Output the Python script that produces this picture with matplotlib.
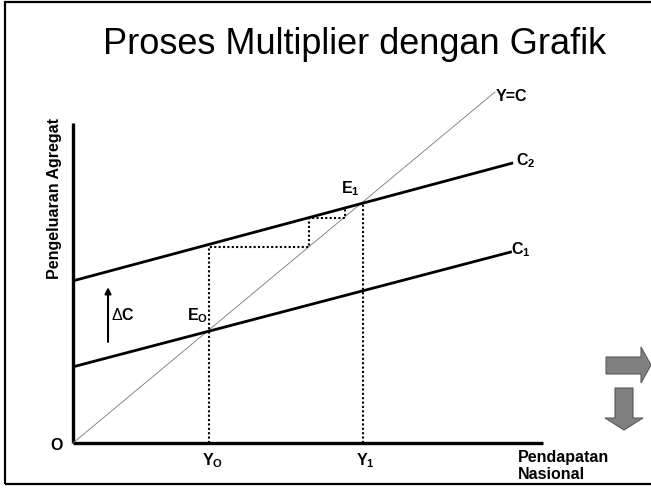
import matplotlib
matplotlib.use("Agg")
import matplotlib.pyplot as plt
from matplotlib.patches import Polygon, Rectangle

plt.rcParams['font.family'] = ['Liberation Sans', 'DejaVu Sans']
plt.rcParams['mathtext.fontset'] = 'custom'
plt.rcParams['mathtext.rm'] = 'Liberation Sans'
plt.rcParams['mathtext.bf'] = 'Liberation Sans:bold'
plt.rcParams['mathtext.it'] = 'Liberation Sans:italic'

# ---- data ----
title = "Proses Multiplier dengan Grafik"
ylabel = "Pengeluaran Agregat"
xlabel = "Pendapatan\nNasional"

yc_x = [0, 100]          # 45-degree line Y = C
yc_y = [0, 100]
c1_x = [0, 104]          # C1
c1_y = [21.7, 54.5]
c2_x = [0, 104.3]        # C2
c2_y = [46.2, 79.8]
y0 = 32.2                # initial equilibrium income
y1 = 68.7                # new equilibrium income
step_x = [32.2, 32.2, 55.9, 55.9, 64.5, 64.5]   # multiplier staircase
step_y = [0, 55.8, 55.8, 64.1, 64.1, 66.7]
x_axis_end = 111.4
y_axis_end = 91.2
dc_arrow_x = 8.3
dc_arrow_y = [28.8, 44.4]

W, H = 651, 488
fig = plt.figure(figsize=(W / 100, H / 100), dpi=100)
ax = fig.add_axes([0, 0, 1, 1])
ax.set_xlim(-73 / 4.22, (W - 73) / 4.22)
ax.set_ylim(-(H - 443) / 3.51, 443 / 3.51)
ax.axis('off')

def px(x, y):
    return (x / W, 1 - y / H)

# slide border
fig.patches.append(Rectangle(px(5, 484), 1.0, (484 - 2) / H, transform=fig.transFigure,
                             fill=False, lw=1.6, ec='black'))

# title
fig.text(355 / W, 1 - 45 / H, title, fontsize=26, ha='center', va='center')

# axes
ax.plot([0, x_axis_end], [0, 0], color='black', lw=2.4, solid_capstyle='butt')
ax.plot([0, 0], [0, y_axis_end], color='black', lw=2.4, solid_capstyle='butt')

# lines
ax.plot(yc_x, yc_y, color='#777777', lw=0.6)
ax.plot(c1_x, c1_y, color='black', lw=2.0, solid_capstyle='butt')
ax.plot(c2_x, c2_y, color='black', lw=2.0, solid_capstyle='butt')

# dotted guides
ax.plot(step_x, step_y, color='black', lw=1.5, linestyle=(0, (1, 1.1)))
ax.plot([y1, y1], [0, y1], color='black', lw=1.5, linestyle=(0, (1, 1.1)))

# delta C arrow
ax.annotate('', xy=(dc_arrow_x, dc_arrow_y[1]), xytext=(dc_arrow_x, dc_arrow_y[0]),
            arrowprops=dict(arrowstyle='-|>', color='black', lw=1.5,
                            mutation_scale=9, shrinkA=0, shrinkB=0))

fs = 11.5
ax.text(9.0, 36.5, r'$\Delta$C', fontsize=fs, fontweight='bold', ha='left', va='center')
ax.text(27.0, 36.2, r'$\mathbf{E_O}$', fontsize=fs, ha='left', va='center')
ax.text(63.5, 72.6, r'$\mathbf{E_1}$', fontsize=fs, ha='left', va='center')
ax.text(100.2, 98.6, 'Y=C', fontsize=fs, fontweight='bold', ha='left', va='center')
ax.text(105.0, 80.4, r'$\mathbf{C_2}$', fontsize=fs, ha='left', va='center')
ax.text(103.8, 55.2, r'$\mathbf{C_1}$', fontsize=fs, ha='left', va='center')
ax.text(-3.8, -0.6, 'O', fontsize=fs, fontweight='bold', ha='center', va='center')
ax.text(30.6, -5.0, r'$\mathbf{Y_O}$', fontsize=fs, ha='left', va='center')
ax.text(67.1, -5.0, r'$\mathbf{Y_1}$', fontsize=fs, ha='left', va='center')
ax.text(105.5, -6.6, xlabel, fontsize=fs, fontweight='bold', ha='left', va='center',
        linespacing=1.2)
ax.text(-4.3, 69.8, ylabel, fontsize=fs, fontweight='bold', rotation=90,
        ha='center', va='center')

# gray navigation arrows
right_arrow = [(606, 357), (641, 357), (641, 347), (651, 365), (641, 383),
               (641, 374), (606, 374)]
down_arrow = [(615, 388), (633, 388), (633, 418), (643, 418), (624, 430),
              (605, 418), (615, 418)]
for shape in (right_arrow, down_arrow):
    fig.patches.append(Polygon([px(x, y) for x, y in shape], closed=True,
                               transform=fig.transFigure, fc='#808080',
                               ec='#5a5a5a', lw=0.8))

fig.savefig('out.png', dpi=100)
